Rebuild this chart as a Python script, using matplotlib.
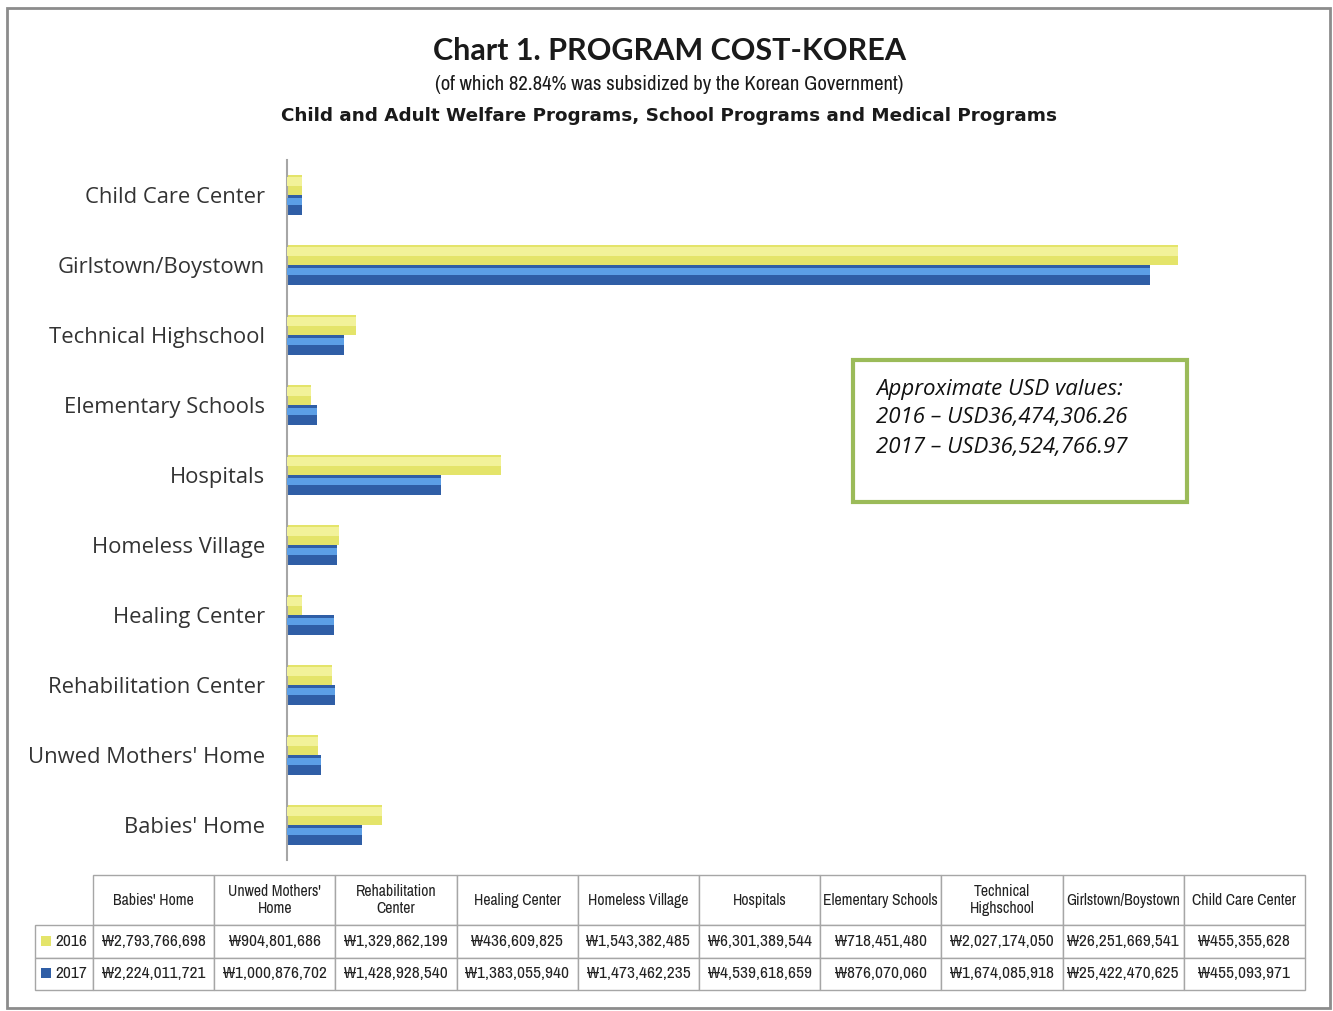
import numpy as np
import matplotlib
matplotlib.use("Agg")
import matplotlib.pyplot as plt
from matplotlib import font_manager
from matplotlib.patches import Rectangle

# data (bottom to top on the chart, same order as the table)
categories = ["Babies' Home", "Unwed Mothers' Home", "Rehabilitation Center", "Healing Center",
              "Homeless Village", "Hospitals", "Elementary Schools", "Technical Highschool",
              "Girlstown/Boystown", "Child Care Center"]
table_headers = ["Babies' Home", "Unwed Mothers'\nHome", "Rehabilitation\nCenter", "Healing Center",
                 "Homeless Village", "Hospitals", "Elementary Schools", "Technical\nHighschool",
                 "Girlstown/Boystown", "Child Care Center"]
cost_2016 = [2793766698, 904801686, 1329862199, 436609825, 1543382485,
             6301389544, 718451480, 2027174050, 26251669541, 455355628]
cost_2017 = [2224011721, 1000876702, 1428928540, 1383055940, 1473462235,
             4539618659, 876070060, 1674085918, 25422470625, 455093971]
years = ["2016", "2017"]


# pick a narrow font for the table if one is installed
def find_narrow():
    regular = [f for f in font_manager.fontManager.ttflist
               if f.style == "normal" and f.weight in (400, "normal", "regular", "book")]
    for f in regular:
        n = f.name.lower()
        if "condensed" in n or "narrow" in n:
            return f.name, "normal"
    for f in regular:
        if str(f.stretch) in ("condensed", "semi-condensed", "extra-condensed"):
            return f.name, f.stretch
    return None, "normal"


narrow_name, narrow_stretch = find_narrow()
narrow_font = [narrow_name, "DejaVu Sans"] if narrow_name else ["DejaVu Sans"]
table_fs = 12.5 if narrow_name else 9.3

label_font = ["Open Sans", "DejaVu Sans"]
bold_font = ["Lato", "DejaVu Sans"]

yellow_dark, yellow_light = "#E4E46A", "#F2F29A"
blue_dark, blue_light = "#2F5EA6", "#5C9FE6"

fig = plt.figure(figsize=(13.33, 10.11), dpi=100)

# outer frame
fig.patches.append(Rectangle((0.005, 0.003), 0.993, 0.989, transform=fig.transFigure,
                             fill=False, edgecolor="#8C8C8C", linewidth=2))

# titles
fig.text(0.502, 0.950, "Chart 1. PROGRAM COST-KOREA", ha="center", va="center",
         fontsize=22, fontweight="bold", family=bold_font, color="#1A1A1A")
fig.text(0.502, 0.916, "(of which 82.84% was subsidized by the Korean Government)", ha="center",
         va="center", fontsize=14.9, family=narrow_font, stretch=narrow_stretch, color="#1A1A1A")
fig.text(0.502, 0.885, "Child and Adult Welfare Programs, School Programs and Medical Programs",
         ha="center", va="center", fontsize=13.2, fontweight="bold", family="DejaVu Sans", color="#1A1A1A")

# bar chart
ax = fig.add_axes([0.2153, 0.1494, 0.7637, 0.6924])
y = np.arange(len(categories))
h = 0.29
v16 = np.array(cost_2016)
v17 = np.array(cost_2017)
ax.barh(y + h / 2, v16, height=h, color=yellow_dark, zorder=2)
ax.barh(y + h / 2 + h * 0.15, v16, height=h * 0.45, color=yellow_light, zorder=3)
ax.barh(y - h / 2, v17, height=h, color=blue_dark, zorder=2)
ax.barh(y - h / 2 + h * 0.18, v17, height=h * 0.35, color=blue_light, zorder=3)

ax.set_xlim(0, 30e9)
ax.set_ylim(-0.5, len(categories) - 0.5)
ax.set_yticks(y)
ax.set_yticklabels(categories, fontsize=15.8, family=label_font, color="#333333")
ax.tick_params(axis="y", length=0, pad=16)
ax.set_xticks([])
for s in ["top", "right", "bottom"]:
    ax.spines[s].set_visible(False)
ax.spines["left"].set_color("#A6A6A6")
ax.spines["left"].set_linewidth(1.5)

# note box
fig.patches.append(Rectangle((853 / 1333, 1 - 502 / 1011), 334 / 1333, 142 / 1011,
                             transform=fig.transFigure, fill=False, edgecolor="#9BBB59", linewidth=3))
note_lines = ["Approximate USD values:", "2016 \u2013 USD36,474,306.26", "2017 \u2013 USD36,524,766.97"]
for i, line in enumerate(note_lines):
    fig.text(876 / 1333, 1 - (389 + 29 * i) / 1011, line, ha="left", va="center",
             fontsize=16, style="italic", family=label_font, color="#111111")

# data table
tax = fig.add_axes([0, 0, 1, 1])
tax.set_axis_off()
fmt = lambda v: "\u20a9{:,}".format(v)
cell_text = [[""] + table_headers,
             [years[0]] + [fmt(v) for v in cost_2016],
             [years[1]] + [fmt(v) for v in cost_2017]]
col_w = [58] + [121.2] * len(categories)
tbl = tax.table(cellText=cell_text, colWidths=col_w, cellLoc="center",
                bbox=[35 / 1333, 1 - 990 / 1011, 1270 / 1333, 115 / 1011])
tbl.auto_set_font_size(False)
tbl.set_fontsize(table_fs)
for (r, c), cell in tbl.get_celld().items():
    cell.set_edgecolor("#A6A6A6")
    cell.set_linewidth(1)
    cell.get_text().set_family(narrow_font)
    cell.get_text().set_stretch(narrow_stretch)
    cell.get_text().set_color("#222222")
    if r == 0:
        cell.set_height(cell.get_height() * 1.55)
        cell.get_text().set_fontsize(table_fs - 1.2)
    if c == 0:
        cell.get_text().set_ha("right")
        cell._loc = "right"
tbl[0, 0].visible_edges = ""

# legend keys in the row labels
for i, col in enumerate([yellow_dark, blue_dark]):
    fig.patches.append(Rectangle((41 / 1333, 1 - (946 + 32 * i) / 1011), 10 / 1333, 10 / 1011,
                                 transform=fig.transFigure, facecolor=col, edgecolor="none"))

fig.savefig("out.png", dpi=100)
